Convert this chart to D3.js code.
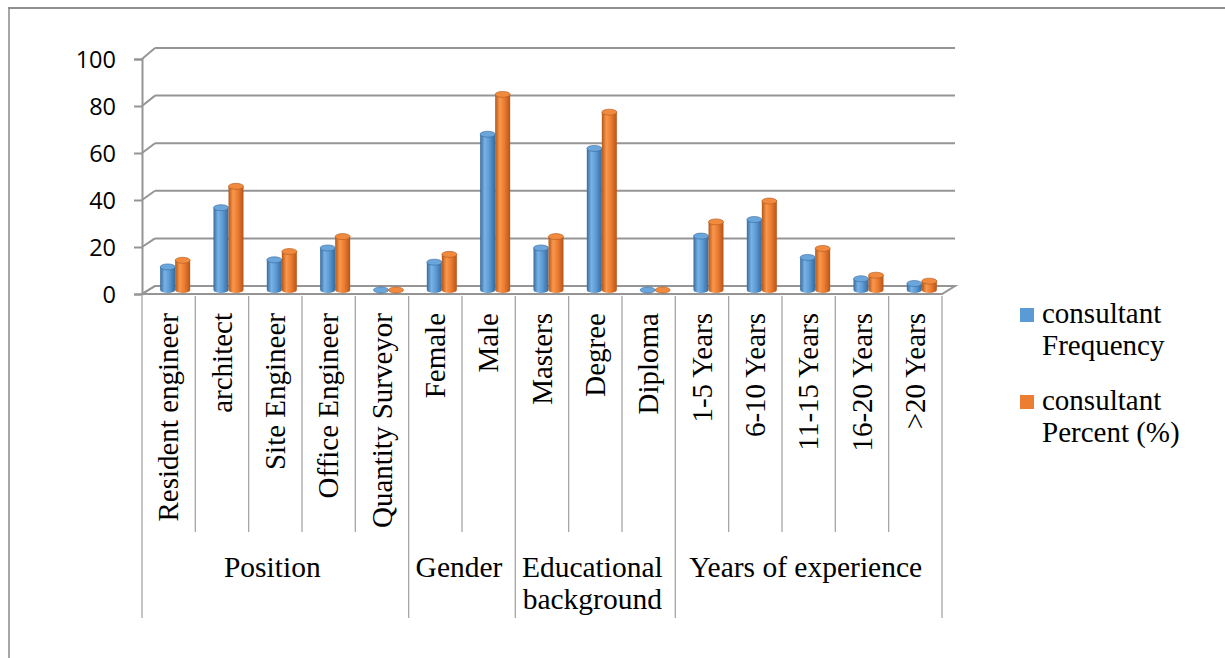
<!DOCTYPE html>
<html>
<head>
<meta charset="utf-8">
<script src="https://cdn.jsdelivr.net/npm/d3@7"></script>
<style>
  html, body { margin: 0; padding: 0; background: #fff; }
  svg { display: block; }
</style>
</head>
<body>
<svg id="chart" width="1225" height="658"></svg>
<script>
// ---- data ----
const categories = [
  "Resident engineer", "architect", "Site Engineer", "Office Engineer", "Quantity Surveyor",
  "Female", "Male",
  "Masters", "Degree", "Diploma",
  "1-5 Years", "6-10 Years", "11-15 Years", "16-20 Years", ">20 Years"
];
const groupNames = ["Position", "Gender", "Educational background", "Years of experience"];
const groupSizes = [5, 2, 3, 5];
const frequency = [11, 36, 14, 19, 0, 13, 67, 19, 61, 0, 24, 31, 15, 6, 4];
const percent   = [13.8, 45, 17.5, 23.8, 0, 16.3, 83.8, 23.8, 76.3, 0, 30, 38.8, 18.8, 7.5, 5];
const seriesNames = ["consultant Frequency", "consultant Percent (%)"];
const yTicks = [0, 20, 40, 60, 80, 100];

// ---- layout ----
const svg = d3.select("#chart");
const serif = "'Liberation Serif', 'Times New Roman', serif";
const sans = "'Open Sans', 'Noto Sans', sans-serif";

const depthX = 13;                       // offset of the back wall
const x = d3.scaleBand().domain(d3.range(categories.length)).range([142, 942]);
const yFront = d3.scaleLinear().domain([0, 100]).range([294, 59]);
const yBack  = d3.scaleLinear().domain([0, 100]).range([286, 48]);
const yBar   = d3.scaleLinear().domain([0, 100]).range([293, 56]);
const barBase = 290;
const inner = d3.scaleBand().domain([0, 1]).range([-15, 15]);

const colors = [
  { dark: "#366a9c", mid: "#5b9bd5", light: "#7ab2e5", top: "#6aa6dc" },
  { dark: "#b3561a", mid: "#ed7d31", light: "#f8984d", top: "#f08a3e" }
];

// gradients for the cylinders
const defs = svg.append("defs");
colors.forEach((c, i) => {
  const g = defs.append("linearGradient").attr("id", "cyl" + i)
    .attr("x1", "0%").attr("x2", "100%").attr("y1", "0%").attr("y2", "0%");
  g.append("stop").attr("offset", "0%").attr("stop-color", c.dark);
  g.append("stop").attr("offset", "30%").attr("stop-color", c.light);
  g.append("stop").attr("offset", "60%").attr("stop-color", c.mid);
  g.append("stop").attr("offset", "100%").attr("stop-color", c.dark);
});

// outer frame
svg.append("line").attr("x1", 9).attr("x2", 9).attr("y1", 7).attr("y2", 658)
  .attr("stroke", "#a6a6a6").attr("stroke-width", 2);
svg.append("line").attr("x1", 8).attr("x2", 1225).attr("y1", 8).attr("y2", 8)
  .attr("stroke", "#8f8f8f").attr("stroke-width", 2);

const gridColor = "#959595";

// floor
const x0 = x.range()[0], x1 = x.range()[1];
svg.append("path")
  .attr("d", `M${x0},${yFront(0)} L${x1},${yFront(0)} L${x1 + depthX},${yBack(0)} L${x0 + depthX},${yBack(0)} Z`)
  .attr("fill", "#fff").attr("stroke", gridColor).attr("stroke-width", 2);

// back wall gridlines and their diagonal links to the axis
yTicks.forEach(t => {
  svg.append("line")
    .attr("x1", x0 + depthX).attr("x2", x1 + depthX)
    .attr("y1", yBack(t)).attr("y2", yBack(t))
    .attr("stroke", gridColor).attr("stroke-width", 2);
  svg.append("line")
    .attr("x1", x0).attr("y1", yFront(t))
    .attr("x2", x0 + depthX).attr("y2", yBack(t))
    .attr("stroke", gridColor).attr("stroke-width", 2);
});

// value axis
const yAxis = d3.axisLeft(yFront).tickValues(yTicks).tickSize(8).tickPadding(18);
const yG = svg.append("g").attr("transform", `translate(${x0},0)`).call(yAxis);
yG.select(".domain").attr("stroke", gridColor).attr("stroke-width", 2);
yG.selectAll(".tick line").attr("stroke", gridColor).attr("stroke-width", 2);
yG.selectAll(".tick text")
  .attr("font-family", sans).attr("font-size", 23.5).attr("fill", "#000").attr("dy", "0.36em");

// cylinders
const rx = 7.5, ry = 3;
const bandShift = depthX / 2;
categories.forEach((cat, i) => {
  [frequency[i], percent[i]].forEach((v, s) => {
    const cx = x(i) + x.bandwidth() / 2 + bandShift + inner(s) + inner.bandwidth() / 2;
    const top = Math.min(yBar(v), barBase);
    const g = svg.append("g");
    if (barBase - top > 0.5) {
      g.append("path")
        .attr("d", `M${cx - rx},${top} L${cx - rx},${barBase} A${rx},${ry} 0 0 0 ${cx + rx},${barBase} L${cx + rx},${top} Z`)
        .attr("fill", `url(#cyl${s})`);
    }
    g.append("ellipse")
      .attr("cx", cx).attr("cy", top).attr("rx", rx).attr("ry", ry)
      .attr("fill", colors[s].top).attr("stroke", colors[s].dark).attr("stroke-width", 0.6);
  });
});

// category table below the floor
const sepColor = "#a6a6a6";
const yTop = 296, yInner = 532, yOuter = 618;
const boundaries = [0];
groupSizes.reduce((acc, n) => { boundaries.push(acc + n); return acc + n; }, 0);
d3.range(categories.length + 1).forEach(i => {
  const xx = i < categories.length ? x(i) : x1;
  const isGroup = boundaries.includes(i);
  svg.append("line")
    .attr("x1", xx).attr("x2", xx)
    .attr("y1", yTop).attr("y2", isGroup ? yOuter : yInner)
    .attr("stroke", sepColor).attr("stroke-width", 1.3);
});

// rotated category labels
categories.forEach((cat, i) => {
  const cx = x(i) + x.bandwidth() / 2 + 9.5;
  svg.append("text")
    .attr("transform", `translate(${cx},313) rotate(-90)`)
    .attr("text-anchor", "end")
    .attr("font-family", serif).attr("font-size", 29).attr("fill", "#000")
    .text(cat);
});

// group labels
groupNames.forEach((name, gi) => {
  const a = boundaries[gi], b = boundaries[gi + 1];
  const cx = (x(a) + (b < categories.length ? x(b) : x1)) / 2 - 3;
  const words = name === "Educational background" ? ["Educational", "background"] : [name];
  const t = svg.append("text")
    .attr("text-anchor", "middle")
    .attr("font-family", serif).attr("font-size", 29.5).attr("fill", "#000");
  words.forEach((w, k) => {
    t.append("tspan").attr("x", cx).attr("y", 577 + k * 32).text(w);
  });
});

// legend
const legendY = [308, 395];
seriesNames.forEach((name, s) => {
  svg.append("rect")
    .attr("x", 1020).attr("y", legendY[s]).attr("width", 14).attr("height", 14)
    .attr("fill", colors[s].mid);
  const parts = name.split(" ");
  const t = svg.append("text")
    .attr("font-family", serif).attr("font-size", 29).attr("fill", "#000");
  t.append("tspan").attr("x", 1042).attr("y", legendY[s] + 15).text(parts[0]);
  t.append("tspan").attr("x", 1042).attr("y", legendY[s] + 47).text(parts.slice(1).join(" "));
});
</script>
</body>
</html>
